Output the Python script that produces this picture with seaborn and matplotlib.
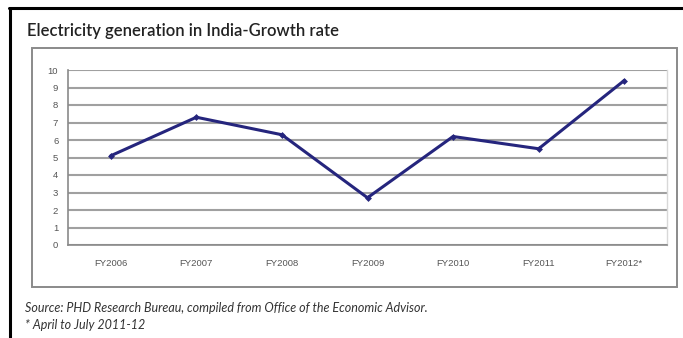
import matplotlib
matplotlib.use("Agg")
import matplotlib.pyplot as plt
from matplotlib.patches import Rectangle
from matplotlib.lines import Line2D
import seaborn as sns
import pandas as pd

years = ["FY2006", "FY2007", "FY2008", "FY2009", "FY2010", "FY2011", "FY2012*"]
growth = [5.1, 7.3, 6.3, 2.7, 6.2, 5.5, 9.4]

df = pd.DataFrame({"pos": range(len(years)), "growth": growth})

sns.set_style("white")
W, H = 683, 338
fig = plt.figure(figsize=(W / 100, H / 100), dpi=100)

# axes placed in pixel terms
ax = fig.add_axes([68 / W, 1 - 245 / H, (667 - 68) / W, (245 - 70) / H])

sns.lineplot(data=df, x="pos", y="growth", ax=ax, color="#25257d", lw=2.2,
             marker="D", markersize=3.5, markeredgewidth=0)

ax.set_xlim(-0.5, len(years) - 0.5)
ax.set_ylim(0, 10)
ax.set_yticks(range(0, 11))
ax.yaxis.grid(True, color="#a0a0a0", lw=1.5)
ax.set_axisbelow(True)

# ticks between categories, labels centred
ax.set_xticks([i - 0.5 for i in range(len(years) + 1)])
ax.set_xticklabels([])
ax.set_xticks(range(len(years)), years, minor=True)
ax.tick_params(axis="x", which="minor", length=0, pad=10)
ax.tick_params(axis="x", which="major", length=4, width=1, color="#808080",
               direction="out")
ax.tick_params(axis="y", length=4, width=1, color="#808080", direction="out", pad=3)
for lab in ax.get_xticklabels(minor=True) + ax.get_yticklabels():
    lab.set_fontfamily("Liberation Sans")
    lab.set_fontsize(6.8)
    lab.set_color("#555555")
ax.set_xlabel("")
ax.set_ylabel("")

for side in ["left", "bottom"]:
    ax.spines[side].set_color("#8a8a8a")
    ax.spines[side].set_linewidth(1.2)
ax.spines["top"].set_visible(False)
ax.spines["right"].set_color("#d8d8d8")
ax.spines["right"].set_linewidth(1)

# inner chart frame
fig.patches.append(Rectangle((32 / W, 1 - 287 / H), (677 - 32) / W, (287 - 48) / H,
                             transform=fig.transFigure, fill=False,
                             edgecolor="#8a8a8a", lw=1.4))
# outer black border (top and left)
fig.lines.append(Line2D([9 / W, 1], [1 - 8 / H, 1 - 8 / H], transform=fig.transFigure,
                        color="black", lw=2.2))
fig.lines.append(Line2D([10 / W, 10 / W], [0, 1 - 8 / H], transform=fig.transFigure,
                        color="black", lw=2.2))

fig.text(27 / W, 1 - 31 / H, "Electricity generation in India-Growth rate",
         fontfamily="Lato", fontsize=12, fontweight="semibold", color="#222222",
         va="center", ha="left")
fig.text(25 / W, 1 - 308 / H,
         "Source: PHD Research Bureau, compiled from Office of the Economic Advisor.",
         fontfamily="Lato", fontstyle="italic", fontsize=9, color="#333333",
         va="center", ha="left")
fig.text(25 / W, 1 - 325 / H, "* April to July 2011-12",
         fontfamily="Lato", fontstyle="italic", fontsize=9, color="#333333",
         va="center", ha="left")

fig.savefig("out.png", dpi=100)
